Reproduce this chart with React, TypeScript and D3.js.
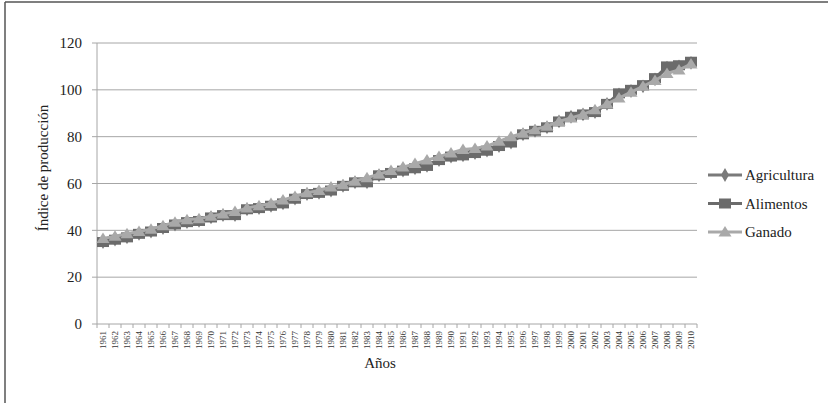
import React from "react";
import * as d3 from "d3";

const years: string[] = d3.range(1961, 2011).map((y) => String(y));
const seriesNames = ["Agricultura", "Alimentos", "Ganado"];
const agricultura = [35, 36, 37, 38.5, 39.5, 41, 42.5, 43.5, 44, 45.5, 46.5, 46.5, 49, 49.5, 50.5, 51.5, 53.5, 55.5, 56, 57, 59, 60.5, 60.5, 63.5, 64.5, 65.5, 66.5, 67.5, 70, 71.5, 72, 73, 74, 76, 77.5, 81, 82.5, 84, 86.5, 88.5, 89.5, 90.5, 94, 98, 99.5, 101.5, 104.5, 109.5, 110, 111.5];
const alimentos = [35, 36, 37, 38.5, 39.5, 41, 42.5, 43.5, 44, 45.5, 46.5, 46.5, 49, 49.5, 50.5, 51.5, 53.5, 55.5, 56, 57, 59, 60.5, 60.5, 63.5, 64.5, 65.5, 66.5, 67.5, 70, 71.5, 72, 73, 74, 76, 77.5, 81, 82.5, 84, 86.5, 88.5, 89.5, 90.5, 94, 98.5, 100, 102, 105, 110, 110.5, 112];
const ganado = [36.5, 37.5, 38.5, 39.5, 40.5, 42, 43.5, 44.5, 45, 46, 47, 48, 49.5, 50.5, 51.5, 53, 54.5, 56, 57, 58.5, 59.5, 61, 62.5, 64, 65.5, 67, 68.5, 70, 71.5, 73, 74.5, 75, 76, 78, 80, 81.5, 83, 84.5, 86.5, 88, 89.5, 91.5, 94, 96.5, 99, 101.5, 104, 107, 108.5, 111];
const yTicks = [0, 20, 40, 60, 80, 100, 120];

const colors = ["#7a7a7a", "#6b6b6b", "#a9a9a9"];
const font = "Liberation Serif, DejaVu Serif, serif";

export default function App() {
  const W = 828, H = 403;
  const left = 97, right = 697, top = 43, bottom = 324;
  const x = d3.scaleBand<string>().domain(years).range([left, right]);
  const y = d3.scaleLinear().domain([0, 120]).range([bottom, top]);
  const cx = (i: number) => (x(years[i]) as number) + x.bandwidth() / 2;
  const line = (vals: number[]) =>
    d3.line<number>().x((_, i) => cx(i)).y((v) => y(v))(vals) as string;
  const data = [agricultura, alimentos, ganado];

  const marker = (k: number, px: number, py: number, key: string | number) => {
    if (k === 0) {
      const p = d3.symbol(d3.symbolDiamond, 55)();
      return <path key={key} d={p as string} transform={`translate(${px},${py})`} fill={colors[0]} />;
    }
    if (k === 1) {
      return <rect key={key} x={px - 6} y={py - 5} width={12} height={10} fill={colors[1]} />;
    }
    return <path key={key} d={`M${px},${py - 6}L${px + 6.5},${py + 4.5}L${px - 6.5},${py + 4.5}Z`} fill={colors[2]} />;
  };

  return (
    <svg width={W} height={H} style={{ position: "absolute", left: 0, top: 0, background: "#fff", fontFamily: font }}>
      <rect x={0} y={0} width={W} height={H} fill="#fff" />
      <line x1={5} y1={2} x2={W} y2={2} stroke="#555" strokeWidth={1.5} />
      <line x1={5} y1={2} x2={5} y2={H} stroke="#555" strokeWidth={1.5} />
      {yTicks.map((t) => (
        <g key={t}>
          <line x1={left} x2={right} y1={y(t)} y2={y(t)} stroke="#a6a6a6" strokeWidth={1} />
          <line x1={left - 5} x2={left} y1={y(t)} y2={y(t)} stroke="#a6a6a6" strokeWidth={1} />
          <text x={82} y={y(t)} dy="0.35em" textAnchor="end" fontFamily={font} fontSize={15} fill="#222">{t}</text>
        </g>
      ))}
      <line x1={left} x2={left} y1={top} y2={bottom} stroke="#a6a6a6" strokeWidth={1} />
      {years.map((yr, i) => (
        <line key={"t" + yr} x1={left + x.step() * i} x2={left + x.step() * i} y1={bottom} y2={bottom + 4} stroke="#a6a6a6" />
      ))}
      <line x1={right} x2={right} y1={bottom} y2={bottom + 4} stroke="#a6a6a6" />
      {years.map((yr, i) => (
        <text key={"l" + yr} transform={`translate(${cx(i) + 3},${bottom + 7}) rotate(-90)`} textAnchor="end" fontFamily={font} fontSize={9} fill="#333">{yr}</text>
      ))}
      <text x={380} y={368} textAnchor="middle" fontFamily={font} fontSize={15} fill="#222">Años</text>
      <text transform={`translate(48,168) rotate(-90)`} textAnchor="middle" fontFamily={font} fontSize={15} fill="#222">Índice de producción</text>
      {data.map((vals, k) => (
        <g key={"s" + k}>
          <path d={line(vals)} fill="none" stroke={colors[k]} strokeWidth={3} />
          {vals.map((v, i) => marker(k, cx(i), y(v), i))}
        </g>
      ))}
      {seriesNames.map((n, k) => {
        const ly = 175 + k * 28.5;
        return (
          <g key={n}>
            <line x1={708} x2={742} y1={ly} y2={ly} stroke={colors[k]} strokeWidth={3} />
            {marker(k, 725, ly, "m")}
            <text x={745} y={ly} dy="0.35em" fontFamily={font} fontSize={15} fill="#222">{n}</text>
          </g>
        );
      })}
    </svg>
  );
}
